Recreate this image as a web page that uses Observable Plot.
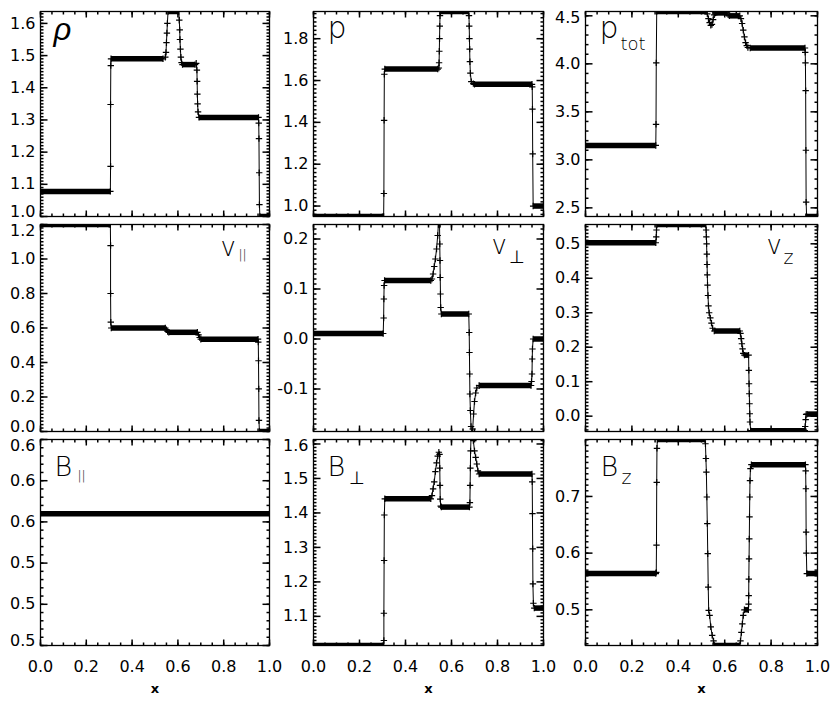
<!DOCTYPE html>
<html><head><meta charset="utf-8">
<script src="https://cdn.jsdelivr.net/npm/d3@7"></script>
<script src="https://cdn.jsdelivr.net/npm/@observablehq/plot@0.6"></script>
<style>
body{margin:0;background:#fff;}
#chart{position:relative;width:830px;height:702px;overflow:hidden;background:#fff;}
#chart svg{position:absolute;overflow:visible;}
</style></head><body><div id="chart"></div>
<script>
// ---------- data (x, value) ----------
const xTicks = [0, 0.2, 0.4, 0.6, 0.8, 1.0];

const rho = [[0,1.078],[0.305,1.078],[0.306,1.156],[0.306,1.348],[0.307,1.469],[0.308,1.49],[0.535,1.49],[0.545,1.495],[0.548,1.51],[0.55,1.54],[0.552,1.57],[0.554,1.60],[0.557,1.637],[0.604,1.637],[0.606,1.61],[0.608,1.58],[0.609,1.55],[0.611,1.52],[0.613,1.495],[0.616,1.478],[0.62,1.472],[0.675,1.472],[0.68,1.476],[0.683,1.455],[0.684,1.42],[0.685,1.38],[0.686,1.35],[0.688,1.325],[0.692,1.308],[0.952,1.308],[0.953,1.29],[0.954,1.242],[0.955,1.136],[0.956,1.037],[0.958,1.0],[1,1.0]];
const rhoTicks = [1.0,1.1,1.2,1.3,1.4,1.5,1.6];

const pres = [[0,0.95],[0.305,0.95],[0.306,1.06],[0.307,1.41],[0.308,1.63],[0.31,1.655],[0.54,1.655],[0.545,1.66],[0.546,1.685],[0.547,1.74],[0.548,1.80],[0.549,1.86],[0.55,1.91],[0.552,1.93],[0.674,1.93],[0.676,1.91],[0.677,1.86],[0.678,1.80],[0.679,1.75],[0.68,1.69],[0.682,1.635],[0.686,1.595],[0.695,1.585],[0.70,1.582],[0.95,1.582],[0.951,1.57],[0.952,1.463],[0.953,1.249],[0.955,1.0],[1,1.0]];
const presTicks = [1.0,1.2,1.4,1.6,1.8];

const ptot = [[0,3.15],[0.303,3.15],[0.304,3.37],[0.305,4.01],[0.307,4.545],[0.52,4.545],[0.525,4.52],[0.53,4.47],[0.535,4.43],[0.54,4.40],[0.545,4.41],[0.55,4.46],[0.555,4.51],[0.56,4.53],[0.61,4.53],[0.615,4.51],[0.62,4.50],[0.665,4.50],[0.67,4.47],[0.675,4.42],[0.68,4.35],[0.685,4.28],[0.69,4.22],[0.695,4.19],[0.70,4.17],[0.71,4.165],[0.946,4.165],[0.947,4.12],[0.948,4.01],[0.949,3.72],[0.95,3.10],[0.951,2.56],[0.953,2.41],[1,2.41]];
const ptotTicks = [2.5,3.0,3.5,4.0,4.5];

const vpar = [[0,1.2],[0.305,1.2],[0.306,1.078],[0.306,0.80],[0.307,0.634],[0.309,0.60],[0.545,0.60],[0.55,0.59],[0.555,0.58],[0.56,0.575],[0.685,0.575],[0.69,0.56],[0.695,0.545],[0.70,0.535],[0.95,0.535],[0.951,0.518],[0.952,0.41],[0.953,0.247],[0.954,0.064],[0.956,0.0],[1,0.0]];
const vparTicks = [0.0,0.2,0.4,0.6,0.8,1.0,1.2];

const vperp = [[0,0.011],[0.303,0.011],[0.305,0.042],[0.306,0.08],[0.307,0.107],[0.309,0.117],[0.51,0.117],[0.515,0.12],[0.52,0.13],[0.525,0.145],[0.53,0.16],[0.535,0.18],[0.54,0.207],[0.543,0.229],[0.548,0.229],[0.549,0.19],[0.55,0.157],[0.551,0.123],[0.552,0.09],[0.553,0.063],[0.556,0.05],[0.675,0.05],[0.677,0.013],[0.678,-0.027],[0.679,-0.07],[0.68,-0.11],[0.682,-0.143],[0.685,-0.175],[0.688,-0.19],[0.692,-0.18],[0.696,-0.15],[0.70,-0.125],[0.705,-0.108],[0.71,-0.098],[0.72,-0.093],[0.946,-0.093],[0.948,-0.085],[0.95,-0.07],[0.951,-0.04],[0.952,-0.02],[0.955,0.0],[1,0.0]];
const vperpTicks = [-0.1,0.0,0.1,0.2];

const vz = [[0,0.503],[0.303,0.503],[0.305,0.52],[0.306,0.54],[0.308,0.556],[0.518,0.556],[0.52,0.54],[0.521,0.52],[0.522,0.50],[0.523,0.47],[0.524,0.44],[0.525,0.41],[0.526,0.38],[0.528,0.35],[0.53,0.32],[0.533,0.30],[0.538,0.285],[0.543,0.27],[0.548,0.255],[0.555,0.247],[0.665,0.247],[0.668,0.24],[0.671,0.225],[0.674,0.21],[0.677,0.195],[0.68,0.182],[0.685,0.177],[0.703,0.177],[0.704,0.133],[0.705,0.094],[0.706,0.065],[0.707,0.036],[0.708,0.007],[0.709,-0.017],[0.712,-0.042],[0.945,-0.042],[0.947,-0.03],[0.949,-0.01],[0.951,0.005],[0.955,0.006],[1,0.006]];
const vzTicks = [0.0,0.1,0.2,0.3,0.4,0.5];

const bpar = [[0,0.56422],[1,0.56422]];
const bparTicks = [0.5639,0.5640,0.5641,0.5642,0.5643,0.5644];
const bparTickLabels = ["0.5","0.5","0.5","0.6","0.6","0.6"];

const bperp = [[0,1.0155],[0.305,1.0155],[0.306,1.03],[0.306,1.109],[0.307,1.262],[0.308,1.394],[0.31,1.441],[0.51,1.441],[0.515,1.45],[0.52,1.47],[0.525,1.49],[0.53,1.52],[0.535,1.545],[0.54,1.565],[0.545,1.576],[0.548,1.57],[0.549,1.53],[0.55,1.48],[0.551,1.44],[0.553,1.42],[0.556,1.417],[0.678,1.417],[0.68,1.43],[0.681,1.48],[0.682,1.53],[0.683,1.58],[0.685,1.62],[0.69,1.64],[0.695,1.61],[0.70,1.58],[0.705,1.561],[0.71,1.542],[0.715,1.522],[0.72,1.513],[0.95,1.513],[0.951,1.49],[0.952,1.398],[0.953,1.296],[0.954,1.194],[0.956,1.138],[0.96,1.124],[1,1.124]];
const bperpTicks = [1.1,1.2,1.3,1.4,1.5,1.6];

const bz = [[0,0.564],[0.303,0.564],[0.305,0.566],[0.306,0.614],[0.307,0.725],[0.308,0.785],[0.31,0.8005],[0.515,0.8005],[0.517,0.793],[0.519,0.767],[0.521,0.743],[0.523,0.699],[0.525,0.652],[0.527,0.599],[0.529,0.54],[0.531,0.499],[0.535,0.49],[0.54,0.47],[0.546,0.455],[0.552,0.445],[0.556,0.437],[0.665,0.437],[0.668,0.445],[0.672,0.46],[0.676,0.475],[0.68,0.49],[0.685,0.50],[0.702,0.50],[0.703,0.51],[0.7035,0.525],[0.704,0.554],[0.705,0.59],[0.706,0.625],[0.707,0.664],[0.708,0.699],[0.709,0.728],[0.711,0.749],[0.715,0.756],[0.948,0.756],[0.949,0.745],[0.95,0.7136],[0.951,0.637],[0.952,0.60],[0.954,0.564],[1,0.564]];
const bzTicks = [0.5,0.6,0.7];

// ---------- layout / style ----------
const colLeft = [40, 313, 585], colW = [229, 230, 232];
const rowTop = [11, 224, 439], rowH = [205, 207, 206];
const FONT = "DejaVu Sans";

const panels = [
  {data: rho,  domain: [1.0, 1.637],   ticks: rhoTicks,  minor: 0.01, col:0, row:0,
   titles: [{t:"ρ", dx:13, dy:28, size:31, style:"italic", family:"Liberation Sans", weight:400}]},
  {data: pres, domain: [0.95, 1.93],   ticks: presTicks, minor: 0.02, col:1, row:0,
   titles: [{t:"p", dx:14, dy:26, size:30}]},
  {data: ptot, domain: [2.41, 4.545],  ticks: ptotTicks, minor: 0.1, col:2, row:0,
   titles: [{t:"p", dx:14, dy:26, size:30}, {t:"tot", dx:35, dy:38, size:18}]},
  {data: vpar, domain: [0, 1.2],       ticks: vparTicks, minor: 0.02, col:0, row:1,
   titles: [{t:"v", dx:180, dy:31, size:26}, {t:"||", dx:198, dy:34, size:12}]},
  {data: vperp, domain: [-0.185, 0.229], ticks: vperpTicks, minor: 0.01, col:1, row:1,
   titles: [{t:"v", dx:178, dy:29, size:26}, {t:"⊥", dx:195, dy:38, size:18}]},
  {data: vz,   domain: [-0.0445, 0.556], ticks: vzTicks, minor: 0.01, col:2, row:1,
   titles: [{t:"v", dx:181, dy:29, size:26}, {t:"z", dx:198, dy:39, size:19}]},
  {data: bpar, domain: [0.5639, 0.5644], ticks: bparTicks, labels: bparTickLabels, minor: 0.00002, col:0, row:2,
   titles: [{t:"B", dx:14, dy:36, size:27}, {t:"||", dx:37, dy:40, size:12}]},
  {data: bperp, domain: [1.0155, 1.613], ticks: bperpTicks, minor: 0.01, col:1, row:2,
   titles: [{t:"B", dx:14, dy:36, size:27}, {t:"⊥", dx:35, dy:44, size:18}]},
  {data: bz,   domain: [0.437, 0.8005], ticks: bzTicks, minor: 0.01, col:2, row:2,
   titles: [{t:"B", dx:15, dy:36, size:27}, {t:"z", dx:36, dy:44, size:19}]}
];

const seg = (dx, dy) => ({draw(ctx) { ctx.moveTo(0, 0); ctx.lineTo(dx, dy); }});
const plus = {draw(ctx) { const r = 3.2; ctx.moveTo(-r, 0); ctx.lineTo(r, 0); ctx.moveTo(0, -r); ctx.lineTo(0, r); }};
const MAJ = 6, MIN = 3;

function stepRange(a, b, s) {
  const out = [];
  const k0 = Math.ceil(a / s - 1e-9), k1 = Math.floor(b / s + 1e-9);
  for (let k = k0; k <= k1; k++) out.push(+(k * s).toPrecision(12));
  return out;
}

const chart = document.getElementById("chart");

for (const p of panels) {
  const W = colW[p.col], H = rowH[p.row];
  const ml = 45, mr = 8, mt = 8, mb = p.row === 2 ? 60 : 8;
  const [d0, d1] = p.domain;
  const perPx = (d1 - d0) / H;
  const xMinor = stepRange(0, 1, 0.05);
  const yMinor = stepRange(d0, d1, p.minor);
  const yMajor = p.ticks;

  // plateaus: consecutive points with the same value
  const plateaus = [];
  for (let i = 1; i < p.data.length; i++) {
    const a = p.data[i - 1], b = p.data[i];
    if (a[1] === b[1] && b[0] - a[0] > 0.003) plateaus.push({x1: a[0], x2: b[0], y: a[1]});
  }

  const clampLabel = v => Math.min(d1 - 6 * perPx, Math.max(d0 + 5 * perPx, v));
  const labelOf = (v, i) => p.labels ? p.labels[i] : v.toFixed(1);

  const marks = [
    Plot.link(plateaus, {x1: "x1", x2: "x2", y1: "y", y2: "y", stroke: "black", strokeWidth: 5.5, strokeLinecap: "butt", clip: true}),
    Plot.line(p.data, {x: d => d[0], y: d => d[1], stroke: "black", strokeWidth: 1, clip: true}),
    Plot.dot(p.data, {x: d => d[0], y: d => d[1], symbol: plus, r: 4, fill: "none", stroke: "black", strokeWidth: 1.2, clip: true}),
    Plot.dot(xMinor, {x: d => d, y: () => d0, symbol: seg(0, -MIN), r: 1, fill: "none", stroke: "black"}),
    Plot.dot(xMinor, {x: d => d, y: () => d1, symbol: seg(0, MIN), r: 1, fill: "none", stroke: "black"}),
    Plot.dot(xTicks, {x: d => d, y: () => d0, symbol: seg(0, -MAJ), r: 1, fill: "none", stroke: "black"}),
    Plot.dot(xTicks, {x: d => d, y: () => d1, symbol: seg(0, MAJ), r: 1, fill: "none", stroke: "black"}),
    Plot.dot(yMinor, {x: () => 0, y: d => d, symbol: seg(MIN, 0), r: 1, fill: "none", stroke: "black"}),
    Plot.dot(yMinor, {x: () => 1, y: d => d, symbol: seg(-MIN, 0), r: 1, fill: "none", stroke: "black"}),
    Plot.dot(yMajor, {x: () => 0, y: d => d, symbol: seg(MAJ + 1, 0), r: 1, fill: "none", stroke: "black"}),
    Plot.dot(yMajor, {x: () => 1, y: d => d, symbol: seg(-(MAJ + 1), 0), r: 1, fill: "none", stroke: "black"}),
    Plot.frame({stroke: "black", strokeWidth: 1.3}),
    Plot.text(yMajor, {x: () => 0, y: d => clampLabel(d), text: labelOf, textAnchor: "end", dx: -5,
      fontSize: 16, fill: "black"})
  ];
  if (p.row === 2) {
    marks.push(Plot.text(xTicks, {x: d => d, y: () => d0, text: d => d.toFixed(1), dy: 21, fontSize: 16, fill: "black"}));
    marks.push(Plot.text(["x"], {x: () => 0.5, y: () => d0, text: d => d, dy: 43, fontSize: 13, fontWeight: "bold", fill: "black"}));
  }
  for (const t of p.titles) {
    marks.push(Plot.text([t.t], {frameAnchor: "top-left", text: d => d, dx: t.dx, dy: t.dy, lineAnchor: "bottom",
      textAnchor: "start", fontSize: t.size, fontStyle: t.style || "normal", fontWeight: t.weight || 200,
      fontFamily: t.family || FONT, fill: "black"}));
  }

  const svg = Plot.plot({
    width: W + ml + mr, height: H + mt + mb,
    marginLeft: ml, marginRight: mr, marginTop: mt, marginBottom: mb,
    x: {domain: [0, 1], axis: null},
    y: {domain: [d0, d1], axis: null},
    style: {background: "transparent", fontFamily: FONT, overflow: "visible"},
    marks
  });
  svg.style.left = (colLeft[p.col] - ml) + "px";
  svg.style.top = (rowTop[p.row] - mt) + "px";
  chart.appendChild(svg);
}
</script>
</body></html>
